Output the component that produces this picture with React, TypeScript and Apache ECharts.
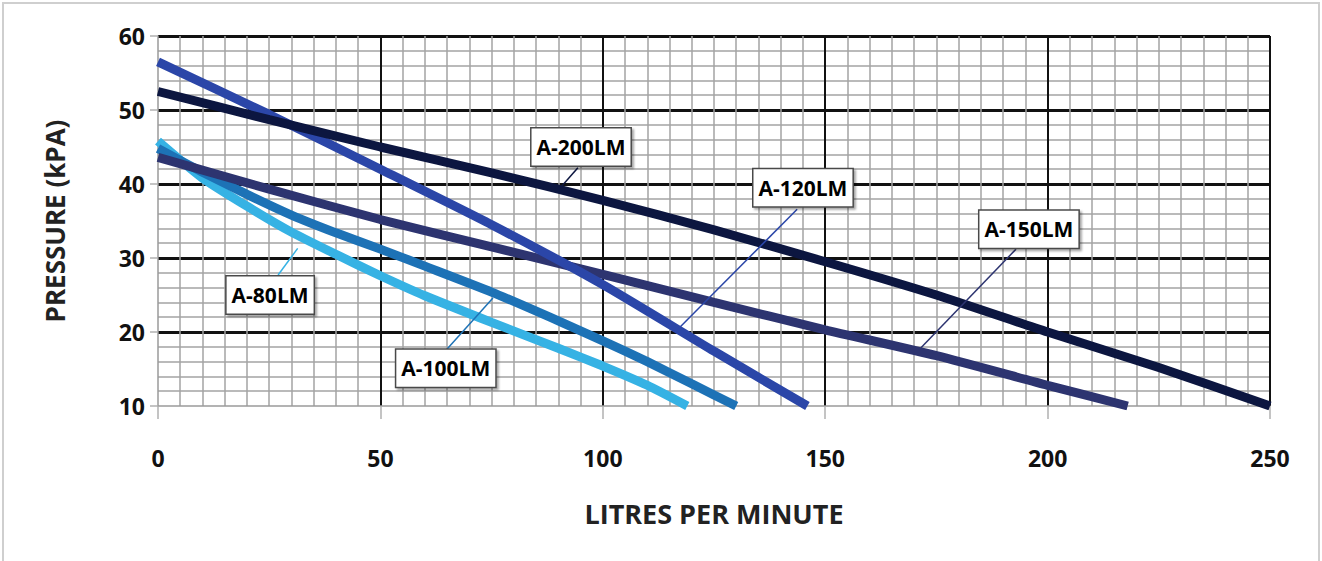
import React, { useEffect, useRef } from "react";
import * as echarts from "echarts";

const xTicks = [0, 50, 100, 150, 200, 250];
const yTicks = [10, 20, 30, 40, 50, 60];

const seriesNames = ["A-80LM", "A-100LM", "A-150LM", "A-120LM", "A-200LM"];

const a80: [number, number][] = [
  [0, 45.8], [10, 40.8], [20, 37.0], [30, 33.5], [40, 30.5], [50, 27.6], [60, 24.9],
  [75, 21.3], [90, 17.8], [100, 15.4], [110, 12.8], [119, 10],
];
const a100: [number, number][] = [
  [0, 44.8], [10, 41.6], [20, 38.6], [30, 35.8], [40, 33.4], [50, 31.2], [60, 28.9],
  [75, 25.4], [90, 21.5], [100, 18.8], [110, 16.0], [120, 13.0], [130, 10],
];
const a120: [number, number][] = [
  [0, 56.5], [25, 49.4], [50, 42.0], [75, 34.5], [100, 26.4], [125, 17.4], [146, 10],
];
const a150: [number, number][] = [
  [0, 43.6], [25, 39.3], [50, 35.2], [75, 31.5], [100, 27.8], [125, 24.0], [150, 20.3],
  [175, 16.8], [200, 12.8], [218, 10],
];
const a200: [number, number][] = [
  [0, 52.5], [25, 48.7], [50, 45.0], [75, 41.5], [100, 37.8], [125, 33.8], [150, 29.5],
  [175, 25.0], [200, 20.0], [225, 15.2], [250, 10],
];

const seriesData = [a80, a100, a150, a120, a200];
const seriesColors = ["#36b2e4", "#1d72b6", "#2d3470", "#2b46a8", "#0c1640"];

// label box centre and leader line (from box edge to curve), in data units
const labelCentres: [number, number][] = [
  [25.2, 25.0], [64.7, 15.1], [195.8, 33.9], [145.0, 39.5], [95.1, 45.0],
];
const leaderStarts: [number, number][] = [
  [27.0, 27.7], [65.0, 17.7], [192.9, 31.2], [143.7, 36.6], [94.4, 42.2],
];
const leaderEnds: [number, number][] = [
  [31.4, 31.3], [75.3, 24.6], [171.1, 17.6], [117.1, 20.5], [90.6, 39.6],
];

const FONT = "'Open Sans', 'DejaVu Sans', sans-serif";

export default function App() {
  const ref = useRef<HTMLDivElement>(null);
  useEffect(() => {
    if (!ref.current) return;
    const chart = echarts.init(ref.current, undefined, { renderer: "svg" });
    const series: any[] = seriesNames.map((name, i) => ({
      name,
      type: "line",
      data: seriesData[i],
      smooth: 0.2,
      showSymbol: false,
      symbol: "none",
      z: 3 + i,
      lineStyle: { color: seriesColors[i], width: 9, cap: "butt" },
      markLine: {
        silent: true,
        symbol: ["none", "none"],
        z: 20,
        label: { show: false },
        lineStyle: { color: seriesColors[i], width: 1.5, type: "solid" },
        data: [[{ coord: leaderStarts[i] }, { coord: leaderEnds[i] }]],
      },
      markPoint: {
        silent: true,
        symbol: "rect",
        symbolSize: 1,
        z: 21,
        itemStyle: { color: "rgba(0,0,0,0)" },
        label: {
          show: true,
          position: "inside",
          formatter: name,
          fontFamily: FONT,
          fontWeight: "bold",
          fontSize: 21,
          color: "#000",
          backgroundColor: "#fff",
          borderColor: "#4a4a4a",
          borderWidth: 1.5,
          padding: [9, 5, 7, 5],
          shadowColor: "rgba(0,0,0,0.35)",
          shadowBlur: 2,
          shadowOffsetX: 2,
          shadowOffsetY: 2,
        },
        data: [{ coord: labelCentres[i], name }],
      },
    }));

    chart.setOption({
      animation: false,
      backgroundColor: "#fff",
      textStyle: { fontFamily: FONT },
      graphic: [
        {
          type: "rect",
          shape: { x: 3, y: 3, width: 1316, height: 600 },
          style: { fill: "none", stroke: "#cfcfcf", lineWidth: 2 },
          silent: true,
          z: -1,
        },
      ],
      grid: { left: 158, right: 52, top: 36, bottom: 155 },
      xAxis: {
        type: "value",
        min: xTicks[0],
        max: xTicks[xTicks.length - 1],
        interval: 50,
        name: "LITRES PER MINUTE",
        nameLocation: "middle",
        nameGap: 94,
        nameTextStyle: { fontFamily: FONT, fontWeight: "bold", fontSize: 27, color: "#222" },
        axisLine: { show: true, lineStyle: { color: "#9a9a9a", width: 1.5 } },
        axisTick: { show: true, length: 13, lineStyle: { color: "#b0b0b0", width: 1.5 } },
        axisLabel: {
          margin: 40,
          fontFamily: FONT,
          fontWeight: "bold",
          fontSize: 23,
          color: "#111",
        },
        splitLine: { show: true, showMinLine: false, lineStyle: { color: "#111", width: 2 } },
        minorTick: { show: false, splitNumber: 10 },
        minorSplitLine: { show: true, lineStyle: { color: "#a3a3a3", width: 1.5 } },
      },
      yAxis: {
        type: "value",
        min: yTicks[0],
        max: yTicks[yTicks.length - 1],
        interval: 10,
        name: "PRESSURE (kPA)",
        nameLocation: "middle",
        nameGap: 90,
        nameTextStyle: { fontFamily: FONT, fontWeight: "bold", fontSize: 26, color: "#222" },
        axisLine: { show: true, lineStyle: { color: "#9a9a9a", width: 1.5 } },
        axisTick: { show: true, length: 8, lineStyle: { color: "#b0b0b0", width: 1.5 } },
        axisLabel: {
          margin: 13,
          fontFamily: FONT,
          fontWeight: "bold",
          fontSize: 23,
          color: "#111",
        },
        splitLine: { show: true, showMinLine: false, lineStyle: { color: "#111", width: 3 } },
        minorTick: { show: false, splitNumber: 5 },
        minorSplitLine: { show: true, lineStyle: { color: "#a3a3a3", width: 1.5 } },
      },
      series,
    });
    return () => chart.dispose();
  }, []);
  return (
    <div
      ref={ref}
      style={{ position: "fixed", left: 0, top: 0, width: 1322, height: 561 }}
    />
  );
}
